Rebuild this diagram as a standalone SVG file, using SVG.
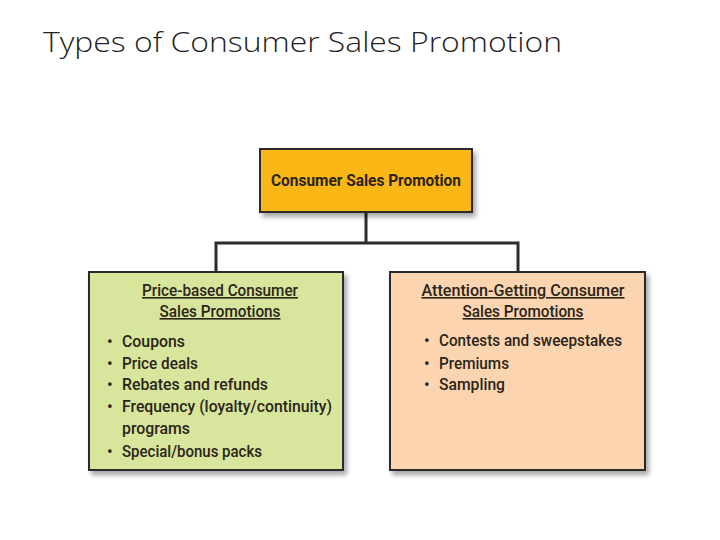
<svg xmlns="http://www.w3.org/2000/svg" width="720" height="540" viewBox="0 0 720 540">
<style>
.title{font-family:"Open Sans","Liberation Sans",sans-serif;font-weight:300;font-size:28px;fill:#222}
.t{font-family:Roboto,"Liberation Sans",sans-serif;font-weight:500;font-size:16px;fill:#2b2418}
.h{text-decoration:underline;text-anchor:middle}
.b{font-weight:bold}
.box{stroke:#2b2b2b;stroke-width:2}
.conn{fill:none;stroke:#2b2b2b;stroke-width:3}
</style>
<defs>
<filter id="sh" x="-10%" y="-10%" width="130%" height="130%">
<feGaussianBlur in="SourceAlpha" stdDeviation="2.5"/>
<feOffset dx="3" dy="4" result="o"/>
<feComponentTransfer><feFuncA type="linear" slope="0.35"/></feComponentTransfer>
<feMerge><feMergeNode/><feMergeNode in="SourceGraphic"/></feMerge>
</filter>
</defs>
<rect width="720" height="540" fill="#fff"/>
<text class="title" x="43" y="52" textLength="519" lengthAdjust="spacingAndGlyphs">Types of Consumer Sales Promotion</text>
<g id="connectors">
<path class="conn" d="M366 212 V243 M216 272 V243 H518 V272"/>
</g>
<g id="top">
<rect class="box" x="260" y="149" width="212" height="63" fill="#FBB715" filter="url(#sh)"/>
<text class="t b" x="366" y="186" text-anchor="middle" textLength="190" lengthAdjust="spacingAndGlyphs">Consumer Sales Promotion</text>
</g>
<g id="price">
<rect class="box" x="89" y="272" width="254" height="198" fill="#D8E59C" filter="url(#sh)"/>
<text class="t h" x="220" y="296" textLength="156" lengthAdjust="spacingAndGlyphs">Price-based Consumer</text>
<text class="t h" x="220" y="317" textLength="121" lengthAdjust="spacingAndGlyphs">Sales Promotions</text>
<g class="t">
<text x="107" y="347">•</text><text x="122" y="347" textLength="63" lengthAdjust="spacingAndGlyphs">Coupons</text>
<text x="107" y="369">•</text><text x="122" y="369" textLength="76" lengthAdjust="spacingAndGlyphs">Price deals</text>
<text x="107" y="390">•</text><text x="122" y="390" textLength="146" lengthAdjust="spacingAndGlyphs">Rebates and refunds</text>
<text x="107" y="412">•</text><text x="122" y="412" textLength="210" lengthAdjust="spacingAndGlyphs">Frequency (loyalty/continuity)</text>
<text x="122" y="434" textLength="68" lengthAdjust="spacingAndGlyphs">programs</text>
<text x="107" y="457">•</text><text x="122" y="457" textLength="140" lengthAdjust="spacingAndGlyphs">Special/bonus packs</text>
</g>
</g>
<g id="attention">
<rect class="box" x="390" y="272" width="255" height="198" fill="#FCD5B0" filter="url(#sh)"/>
<text class="t h" x="523" y="296" textLength="203" lengthAdjust="spacingAndGlyphs">Attention-Getting Consumer</text>
<text class="t h" x="523" y="317" textLength="121" lengthAdjust="spacingAndGlyphs">Sales Promotions</text>
<g class="t">
<text x="424" y="346">•</text><text x="439" y="346" textLength="183" lengthAdjust="spacingAndGlyphs">Contests and sweepstakes</text>
<text x="424" y="369">•</text><text x="439" y="369" textLength="70" lengthAdjust="spacingAndGlyphs">Premiums</text>
<text x="424" y="390">•</text><text x="439" y="390" textLength="66" lengthAdjust="spacingAndGlyphs">Sampling</text>
</g>
</g>
</svg>
